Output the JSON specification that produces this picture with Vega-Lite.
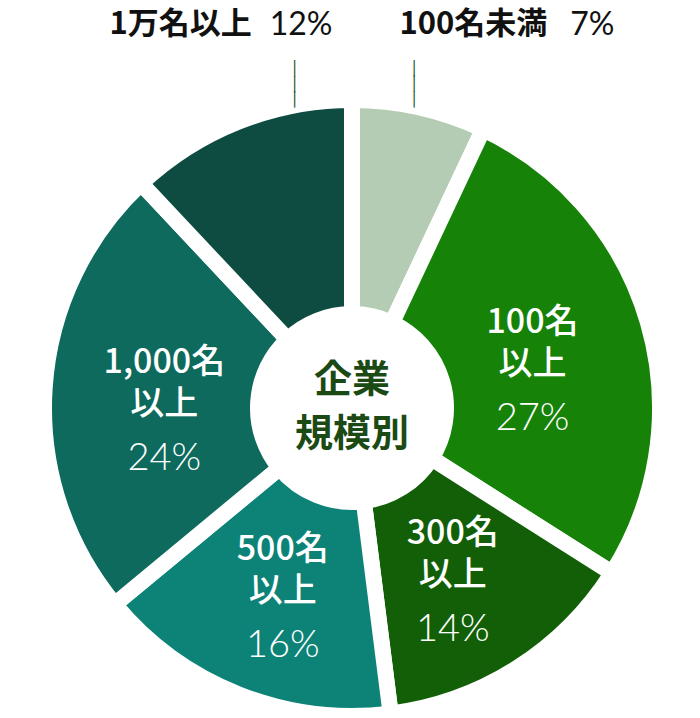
{
  "$schema": "https://vega.github.io/schema/vega-lite/v6.json",
  "width": 696,
  "height": 620,
  "autosize": {"type": "none"},
  "padding": {"left": 4, "top": 98, "right": 0, "bottom": 0},
  "background": "white",
  "config": {"view": {"stroke": null}},
  "data": {
    "values": [
      {"k": 1, "size": "100名未満", "share": 7, "name": "", "pct": "7%"},
      {"k": 2, "size": "100名以上", "share": 27, "name": "100名\n以上", "pct": "27%"},
      {"k": 3, "size": "300名以上", "share": 14, "name": "300名\n以上", "pct": "14%"},
      {"k": 4, "size": "500名以上", "share": 16, "name": "500名\n以上", "pct": "16%"},
      {"k": 5, "size": "1,000名以上", "share": 24, "name": "1,000名\n以上", "pct": "24%"},
      {"k": 6, "size": "1万名以上", "share": 12, "name": "", "pct": "12%"}
    ]
  },
  "layer": [
    {
      "encoding": {
        "theta": {"field": "share", "type": "quantitative", "stack": true},
        "order": {"field": "k"}
      },
      "layer": [
        {
          "mark": {"type": "arc", "outerRadius": 308, "innerRadius": 94, "stroke": "#ffffff", "strokeWidth": 16},
          "encoding": {
            "color": {
              "field": "size",
              "type": "nominal",
              "scale": {
                "domain": ["100名未満", "100名以上", "300名以上", "500名以上", "1,000名以上", "1万名以上"],
                "range": ["#b3ccb3", "#168208", "#135f08", "#0d8377", "#0d6a5c", "#0e4b41"]
              },
              "legend": null
            }
          }
        },
        {
          "mark": {"type": "text", "radius": 188, "dy": -33, "font": "Noto Sans CJK JP", "fontSize": 34, "fontWeight": 500, "color": "#ffffff", "lineBreak": "\n", "lineHeight": 42},
          "encoding": {"text": {"field": "name"}}
        },
        {
          "mark": {"type": "text", "radius": 188, "dy": 63, "font": "Lato", "fontSize": 38, "fontWeight": 300, "color": "#ffffff"},
          "encoding": {"text": {"condition": {"test": "datum.name !== ''", "field": "pct"}, "value": ""}}
        },
        {
          "mark": {"type": "text", "radius": 400, "dx": 47, "dy": -11, "align": "right", "font": "Noto Sans CJK JP", "fontSize": 31, "fontWeight": "bold", "color": "#111111"},
          "encoding": {"text": {"condition": {"test": "datum.size === '1万名以上'", "field": "size"}, "value": ""}}
        },
        {
          "mark": {"type": "text", "radius": 400, "dx": 65, "dy": -11, "align": "left", "font": "Lato", "fontSize": 32, "fontWeight": 400, "color": "#111111"},
          "encoding": {"text": {"condition": {"test": "datum.size === '1万名以上'", "field": "pct"}, "value": ""}}
        },
        {
          "mark": {"type": "text", "radius": 400, "dx": 108, "dy": 7, "align": "right", "font": "Noto Sans CJK JP", "fontSize": 31, "fontWeight": "bold", "color": "#111111"},
          "encoding": {"text": {"condition": {"test": "datum.size === '100名未満'", "field": "size"}, "value": ""}}
        },
        {
          "mark": {"type": "text", "radius": 400, "dx": 131, "dy": 7, "align": "left", "font": "Lato", "fontSize": 32, "fontWeight": 400, "color": "#111111"},
          "encoding": {"text": {"condition": {"test": "datum.size === '100名未満'", "field": "pct"}, "value": ""}}
        },
        {
          "mark": {"type": "text", "radius": 330, "dx": 64, "dy": -32, "font": "DejaVu Sans Mono", "fontSize": 14, "lineHeight": 15.5, "lineBreak": "\n", "color": "#174a17"},
          "encoding": {"text": {"condition": {"test": "datum.size === '1万名以上'", "value": "│\n│\n│"}, "value": ""}}
        },
        {
          "mark": {"type": "text", "radius": 330, "dx": -10, "dy": -17, "font": "DejaVu Sans Mono", "fontSize": 14, "lineHeight": 15.5, "lineBreak": "\n", "color": "#174a17"},
          "encoding": {"text": {"condition": {"test": "datum.size === '100名未満'", "value": "│\n│\n│"}, "value": ""}}
        }
      ]
    },
    {
      "data": {"values": [{"label": "企業規模別"}]},
      "mark": {"type": "text", "dy": -27, "font": "Noto Sans CJK JP", "fontSize": 38, "fontWeight": "bold", "color": "#1b4a14", "lineHeight": 54},
      "encoding": {"text": {"value": ["企業", "規模別"]}}
    }
  ]
}
